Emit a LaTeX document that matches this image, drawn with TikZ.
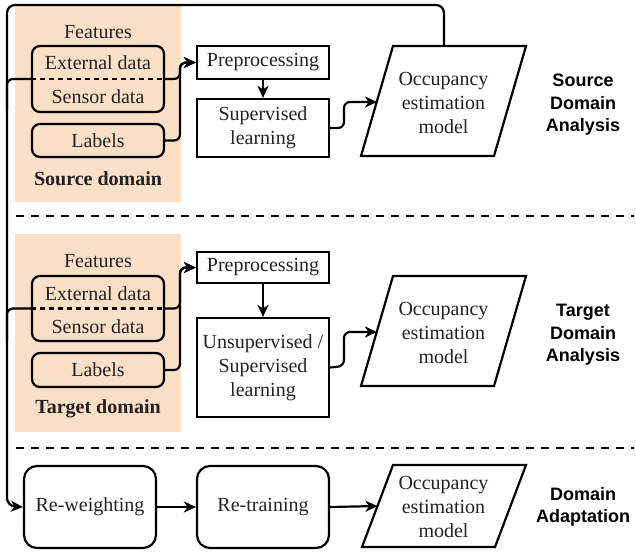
\documentclass[tikz,border=0pt]{standalone}
\usepackage{fontspec}
\setmainfont{Liberation Serif}
\newfontfamily\labfont{Liberation Sans}
\usetikzlibrary{arrows.meta}
\definecolor{peach}{HTML}{FBDFC7}
\definecolor{txt}{HTML}{222222}
\tikzset{
  bx/.style={draw=black, line width=2.2pt, minimum width=132pt, inner sep=0pt, text=txt, align=center, font=\fontsize{20}{24}\selectfont},
  rbx/.style={bx, rounded corners=8pt},
  rbbx/.style={bx, rounded corners=13pt},
  lbl/.style={text=txt, align=center, inner sep=0pt, font=\fontsize{20}{24}\selectfont},
  blbl/.style={lbl, font=\fontsize{20}{24}\selectfont\bfseries},
  side/.style={text=black, align=center, inner sep=0pt, font=\fontsize{18}{22.5}\selectfont\labfont\bfseries},
  conn/.style={draw=black, line width=2.2pt, rounded corners=6pt},
  arr/.style={conn, -{Stealth[length=12pt,width=11pt,inset=3.5pt]}},
  sep/.style={draw=black, line width=2.6pt, dash pattern=on 8pt off 7pt},
  innerdash/.style={draw=black, line width=2.2pt, dash pattern=on 5pt off 4pt},
  para/.style={draw=black, line width=2.2pt, line join=miter},
}
\begin{document}
\begin{tikzpicture}[x=1pt, y=-1pt]
\useasboundingbox (0,0) rectangle (636,552);
% backgrounds
\fill[peach] (15,5) rectangle (181,202);
\fill[peach] (15,234) rectangle (181,432);
% separators
\draw[sep] (16,216) -- (634,216);
\draw[sep] (16,448) -- (634,448);

% ===== Source =====
\node[lbl] (fea1) at (98,32) {Features};
\node[rbx, minimum height=66pt] (feat1) at (98,79) {};
\node[lbl] (ext1) at (98,63) {External data};
\node[lbl] (sen1) at (98,97) {Sensor data};
\node[rbx, minimum height=33pt] (lab1) at (98,140.5) {Labels};
\node[blbl] (dom1) at (98,179) {Source domain};
\node[bx, minimum height=33pt] (pre1) at (263,62.5) {Preprocessing};
\node[bx, minimum height=58pt] (sup1) at (263,128) {Supervised\\learning};
\draw[para] (393,46) -- (526,46) -- (494,156) -- (361,156) -- cycle;
\node[lbl] (occ1) at (443.5,103) {Occupancy\\estimation\\model};
\coordinate (occ1in) at (377,102);
\coordinate (occ1top) at (444,46);
\node[side] (s1) at (583,105) {Source\\Domain\\Analysis};

% ===== Target =====
\node[lbl] (fea2) at (98,261) {Features};
\node[rbx, minimum height=65pt] (feat2) at (98,308.5) {};
\node[lbl] (ext2) at (98,294) {External data};
\node[lbl] (sen2) at (98,327) {Sensor data};
\node[rbx, minimum height=34pt] (lab2) at (98,370) {Labels};
\node[blbl] (dom2) at (98,409) {Target domain};
\node[bx, minimum height=31pt] (pre2) at (263,267.5) {Preprocessing};
\node[bx, minimum height=99pt] (uns2) at (263,367.5) {Unsupervised /\\Supervised\\learning};
\draw[para] (393,276) -- (526,276) -- (494,386) -- (361,386) -- cycle;
\node[lbl] (occ2) at (443.5,333) {Occupancy\\estimation\\model};
\coordinate (occ2in) at (377,332);
\node[side] (s2) at (583,335) {Target\\Domain\\Analysis};

% ===== Adaptation =====
\node[rbbx, minimum height=82pt] (rew) at (90,507) {Re-weighting};
\node[rbbx, minimum height=82pt] (ret) at (263,507) {Re-training};
\draw[para] (393,465) -- (526,465) -- (495,547) -- (362,547) -- cycle;
\node[lbl] (occ3) at (443.5,507) {Occupancy\\estimation\\model};
\coordinate (occ3in) at (377.5,506);
\node[side] (s3) at (583,507) {Domain\\Adaptation};

% inner dashed dividers
\draw[innerdash] (feat1.west) -- (feat1.east);
\draw[innerdash] (feat2.west) -- (feat2.east);

% connectors source
\draw[arr] (feat1.east) -- (180,79) -- (180,62.5) -- (pre1.west);
\draw[arr] (lab1.east) -- (180,140.5) -- (180,62.5) -- (pre1.west);
\draw[arr] (pre1.south) -- (sup1.north);
\draw[arr] (sup1.east) -- (344,128) -- (344,102) -- (occ1in);
% connectors target
\draw[arr] (feat2.east) -- (180,308.5) -- (180,267.5) -- (pre2.west);
\draw[arr] (lab2.east) -- (180,370) -- (180,267.5) -- (pre2.west);
\draw[arr] (pre2.south) -- (uns2.north);
\draw[arr] (uns2.east) -- (344,366) -- (344,332) -- (occ2in);
% feedback to adaptation
\draw[arr, rounded corners=8pt] (occ1top) -- (444,5) -- (7,5) -- (7,506) -- (rew.west);
\draw[conn] (feat1.west) -- (7,79) -- (7,110);
\draw[conn] (feat2.west) -- (7,308.5) -- (7,340);
% adaptation chain
\draw[arr] (rew.east) -- (ret.west);
\draw[arr] (ret.east) -- (occ3in);
\end{tikzpicture}
\end{document}
